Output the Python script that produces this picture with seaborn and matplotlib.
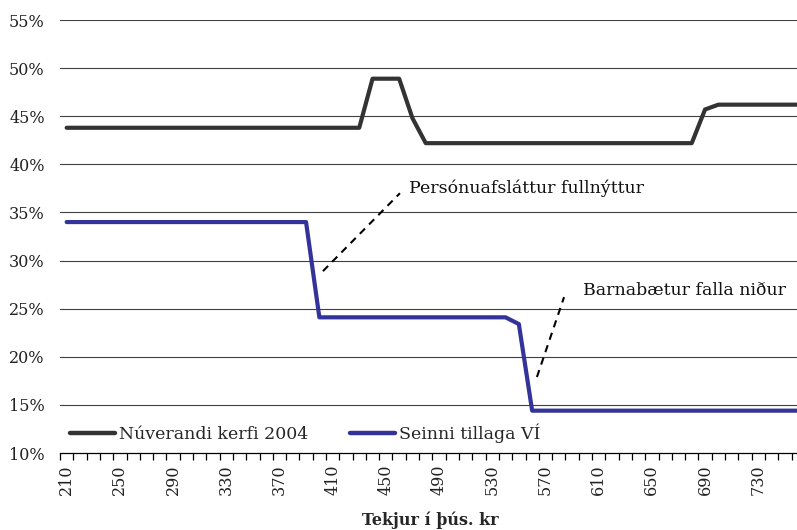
import numpy as np
import pandas as pd
import matplotlib
matplotlib.use("Agg")
import matplotlib.pyplot as plt
import seaborn as sns
from matplotlib.ticker import FixedLocator, FuncFormatter
from matplotlib.lines import Line2D

income = list(range(210, 770, 10))
# Núverandi kerfi 2004
current = [43.8]*23 + [48.9, 48.9, 48.9, 44.8] + [42.2]*21 + [45.7] + [46.2]*7
# Seinni tillaga VÍ
proposal = [34.0]*19 + [24.1]*15 + [23.4] + [14.4]*21

name_cur = "Núverandi kerfi 2004"
name_prop = "Seinni tillaga VÍ"
xlabel = "Tekjur í þús. kr"
yticks = [10, 15, 20, 25, 30, 35, 40, 45, 50, 55]
xtick_labels = list(range(210, 770, 40))
ann1 = "Persónuafsláttur fullnýttur"
ann2 = "Barnabætur falla niður"

df = pd.DataFrame({"income": income * 2,
                   "value": current + proposal,
                   "series": [name_cur]*len(income) + [name_prop]*len(income)})

sns.set_theme(style="white")
plt.rcParams['font.family'] = ['DejaVu Serif']
fs = 11.5
fs_ann = 12.5

fig = plt.figure(figsize=(7.97, 5.30), dpi=100)
ax = fig.add_axes([60/797, 1-453/530, 740/797, (453-20)/530])

for y in yticks[1:]:
    ax.axhline(y, color="#404040", lw=0.8, zorder=1)

sns.lineplot(data=df, x="income", y="value", hue="series",
             palette={name_cur: "#333333", name_prop: "#33339a"},
             lw=3.0, ax=ax, zorder=3, legend=False)

ax.set_xlim(205, 205 + 740/1.33)
ax.set_ylim(10, 55)

for s in ["top", "right", "left"]:
    ax.spines[s].set_visible(False)
ax.spines["bottom"].set_color("black")
ax.spines["bottom"].set_linewidth(0.9)

ax.set_yticks(yticks)
ax.yaxis.set_major_formatter(FuncFormatter(lambda v, p: f"{int(v)}%"))
ax.tick_params(axis="y", length=0, labelsize=fs, pad=11, colors="#222222")

ax.xaxis.set_major_locator(FixedLocator(xtick_labels))
ax.set_xticklabels([str(v) for v in xtick_labels], rotation=90)
ax.xaxis.set_minor_locator(FixedLocator(np.arange(205, 770, 10)))
ax.tick_params(axis="x", which="major", length=0, labelsize=fs, pad=8, colors="#222222")
ax.tick_params(axis="x", which="minor", length=5, width=0.9, direction="out", color="black", bottom=True)

ax.set_xlabel(xlabel, fontsize=fs, fontweight="bold", labelpad=12)
ax.set_ylabel("")

handles = [Line2D([], [], color="#333333", lw=3.2, solid_capstyle="round"),
           Line2D([], [], color="#33339a", lw=3.2, solid_capstyle="round")]
ax.legend(handles, [name_cur, name_prop], ncol=2, frameon=False, fontsize=fs_ann,
          loc="lower left", bbox_to_anchor=(0.0, 0.0), handlelength=2.6,
          handletextpad=0.25, columnspacing=2.4, borderaxespad=0.15)

ax.plot([402.7, 460.6], [28.9, 37.0], ls=(0, (3.5, 2.8)), color="black", lw=1.5, zorder=2)
ax.text(467.4, 37.5, ann1, fontsize=fs_ann, va="center", ha="left", color="#111111")
ax.plot([563.6, 584.0], [17.9, 26.2], ls=(0, (3.5, 2.8)), color="black", lw=1.5, zorder=2)
ax.text(598.2, 26.9, ann2, fontsize=fs_ann, va="center", ha="left", color="#111111")

fig.savefig("out.png", dpi=100)
